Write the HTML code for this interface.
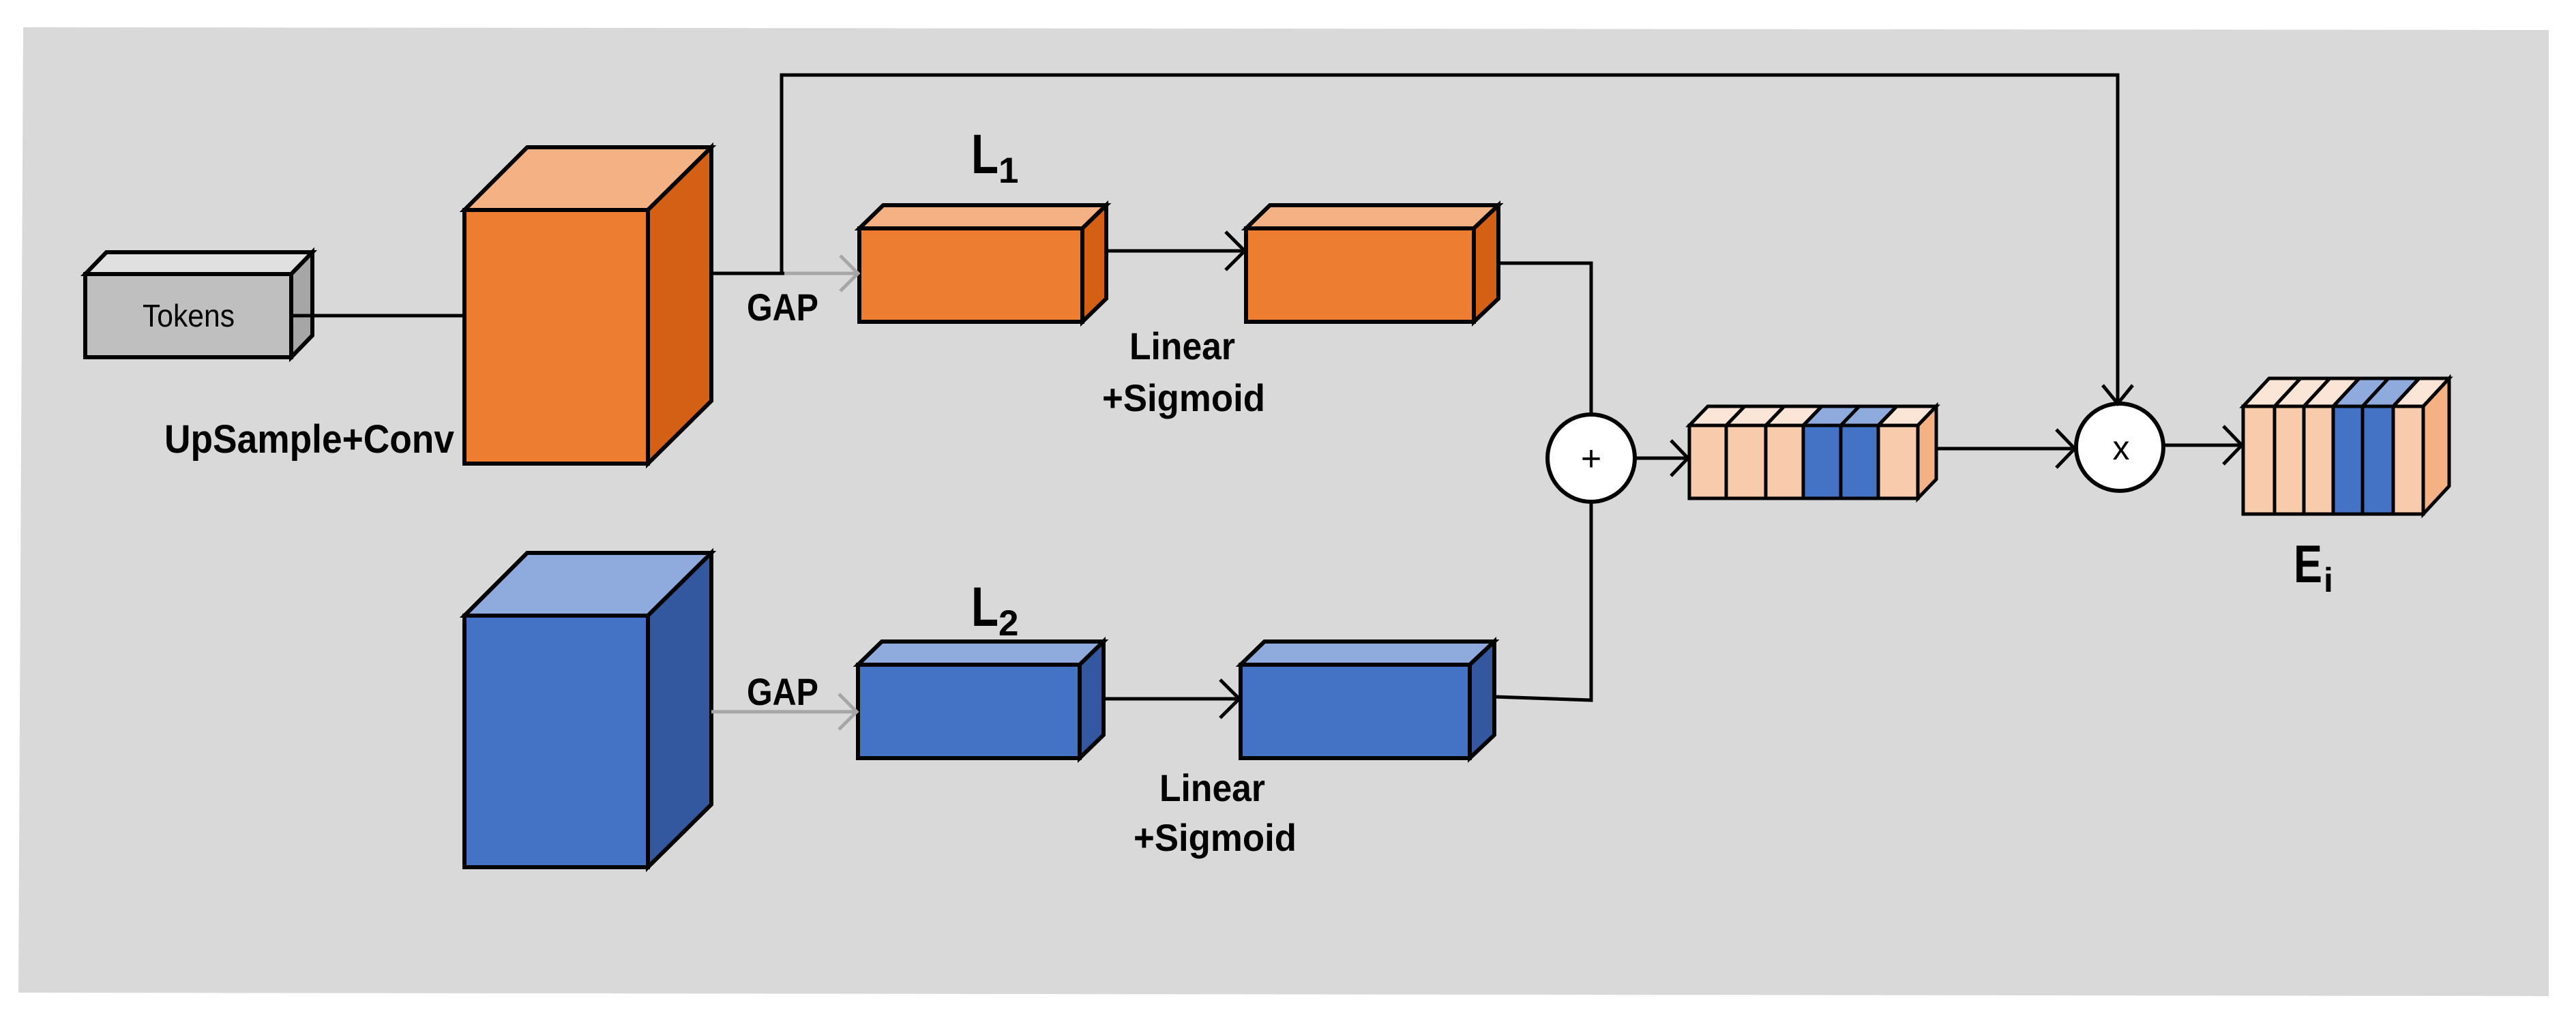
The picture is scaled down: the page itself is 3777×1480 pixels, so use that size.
<!DOCTYPE html>
<html><head><meta charset="utf-8"><style>
html,body{margin:0;padding:0;background:#fff;}
svg{display:block;}
text{font-family:"Liberation Sans",sans-serif;font-weight:bold;fill:#000;}
</style></head><body>
<svg width="3777" height="1480" viewBox="0 0 3777 1480" xmlns="http://www.w3.org/2000/svg">
<polygon points="34,40 3737,44 3737,1461 27,1456" fill="#d9d9d9"/>

<g stroke="#000" stroke-width="6" stroke-linejoin="miter">
<!-- Tokens -->
<polygon points="125,402 156,370 458,370 427,402" fill="#e0e0e0"/>
<polygon points="427,402 458,370 458,492 427,524" fill="#a6a6a6"/>
<rect x="125" y="402" width="302" height="122" fill="#bfbfbf"/>

<!-- Orange big cube -->
<polygon points="681,308 773,216 1043,216 950,308" fill="#f4b183"/>
<polygon points="950,308 1043,216 1043,588 950,680" fill="#d46016"/>
<rect x="681" y="308" width="269" height="372" fill="#ed7d31"/>

<!-- Blue big cube -->
<polygon points="681,903 773,811 1043,811 950,903" fill="#8faadc"/>
<polygon points="950,903 1043,811 1043,1180 950,1272" fill="#3358a0"/>
<rect x="681" y="903" width="269" height="369" fill="#4472c4"/>

<!-- L1 box -->
<polygon points="1260,335 1295,301 1622,301 1587,335" fill="#f4b183"/>
<polygon points="1587,335 1622,301 1622,438 1587,472" fill="#d46016"/>
<rect x="1260" y="335" width="327" height="137" fill="#ed7d31"/>
<!-- box2 orange -->
<polygon points="1827,335 1862,301 2197,301 2161,335" fill="#f4b183"/>
<polygon points="2161,335 2197,301 2197,438 2161,472" fill="#d46016"/>
<rect x="1827" y="335" width="334" height="137" fill="#ed7d31"/>

<!-- L2 box -->
<polygon points="1258,975 1293,941 1618,941 1583,975" fill="#8faadc"/>
<polygon points="1583,975 1618,941 1618,1078 1583,1112" fill="#3358a0"/>
<rect x="1258" y="975" width="325" height="137" fill="#4472c4"/>
<!-- box4 blue -->
<polygon points="1819,975 1854,941 2191,941 2155,975" fill="#8faadc"/>
<polygon points="2155,975 2191,941 2191,1078 2155,1112" fill="#3358a0"/>
<rect x="1819" y="975" width="336" height="137" fill="#4472c4"/>

<!-- striped box3 -->
<g stroke-width="5">
<polygon points="2477,624 2504,596 2839,596 2812,624" fill="#fbe5d6"/>
<polygon points="2644,624 2671,596 2781,596 2754,624" fill="#8faadc"/>
<polygon points="2812,624 2839,596 2839,703 2812,731" fill="#f4b183"/>
<rect x="2477" y="624" width="54" height="107" fill="#f8cbad"/>
<rect x="2531" y="624" width="58" height="107" fill="#f8cbad"/>
<rect x="2589" y="624" width="55" height="107" fill="#f8cbad"/>
<rect x="2644" y="624" width="55" height="107" fill="#4472c4"/>
<rect x="2699" y="624" width="55" height="107" fill="#4472c4"/>
<rect x="2754" y="624" width="58" height="107" fill="#f8cbad"/>
<line x1="2531" y1="624" x2="2558" y2="596"/>
<line x1="2589" y1="624" x2="2616" y2="596"/>
<line x1="2644" y1="624" x2="2671" y2="596"/>
<line x1="2699" y1="624" x2="2726" y2="596"/>
<line x1="2754" y1="624" x2="2781" y2="596"/>
</g>

<!-- Ei box -->
<g stroke-width="5">
<polygon points="3289,596 3327,555 3591,555 3553,596" fill="#fbe5d6"/>
<polygon points="3421,596 3459,555 3547,555 3509,596" fill="#8faadc"/>
<polygon points="3553,596 3591,555 3591,713 3553,754" fill="#f4b183"/>
<rect x="3289" y="596" width="46" height="158" fill="#f8cbad"/>
<rect x="3335" y="596" width="43" height="158" fill="#f8cbad"/>
<rect x="3378" y="596" width="43" height="158" fill="#f8cbad"/>
<rect x="3421" y="596" width="43" height="158" fill="#4472c4"/>
<rect x="3464" y="596" width="45" height="158" fill="#4472c4"/>
<rect x="3509" y="596" width="44" height="158" fill="#f8cbad"/>
<line x1="3335" y1="596" x2="3373" y2="555"/>
<line x1="3378" y1="596" x2="3416" y2="555"/>
<line x1="3421" y1="596" x2="3459" y2="555"/>
<line x1="3464" y1="596" x2="3502" y2="555"/>
<line x1="3509" y1="596" x2="3547" y2="555"/>
</g>

<!-- circles -->
<circle cx="2333" cy="672" r="64" fill="#fff"/>
<circle cx="3108" cy="656" r="64" fill="#fff"/>
</g>

<!-- connectors -->
<g fill="none" stroke="#000" stroke-width="5">
<line x1="427" y1="463" x2="681" y2="463"/>
<line x1="1043" y1="401" x2="1150" y2="401"/>
<polyline points="1146,401 1146,110 3105,110 3105,590"/>
<polyline points="3083,565 3105,592 3127,565"/>
<line x1="1622" y1="368" x2="1825" y2="368"/>
<polyline points="1797,340 1825,368 1797,396"/>
<line x1="1618" y1="1025" x2="1817" y2="1025"/>
<polyline points="1789,997 1817,1025 1789,1053"/>
<polyline points="2197,386 2333,386 2333,608"/>
<polyline points="2191,1022 2333,1027 2333,736"/>
<line x1="2397" y1="672" x2="2475" y2="672"/>
<polyline points="2450,646 2475,672 2450,698"/>
<line x1="2839" y1="658" x2="3042" y2="658"/>
<polyline points="3015,630 3042,658 3015,686"/>
<line x1="3172" y1="653" x2="3287" y2="653"/>
<polyline points="3260,625 3287,653 3260,681"/>
</g>
<g fill="none" stroke="#a6a6a6" stroke-width="5">
<line x1="1150" y1="401" x2="1258" y2="401"/>
<polyline points="1232,375 1258,401 1232,427"/>
<line x1="1043" y1="1044" x2="1256" y2="1044"/>
<polyline points="1230,1018 1256,1044 1230,1070"/>
</g>

<!-- text -->
<text x="209" y="479" font-size="46" style="font-weight:normal" textLength="135" lengthAdjust="spacingAndGlyphs">Tokens</text>
<text x="241" y="664" font-size="58" textLength="425" lengthAdjust="spacingAndGlyphs">UpSample+Conv</text>
<text x="1095" y="470" font-size="56" textLength="105" lengthAdjust="spacingAndGlyphs">GAP</text>
<text x="1095" y="1034" font-size="56" textLength="105" lengthAdjust="spacingAndGlyphs">GAP</text>
<text x="1424" y="254" font-size="82" textLength="40" lengthAdjust="spacingAndGlyphs">L</text>
<text x="1464" y="268" font-size="53">1</text>
<text x="1424" y="918" font-size="82" textLength="40" lengthAdjust="spacingAndGlyphs">L</text>
<text x="1464" y="932" font-size="53">2</text>
<text x="1656" y="527" font-size="56" textLength="155" lengthAdjust="spacingAndGlyphs">Linear</text>
<text x="1616" y="603" font-size="56" textLength="239" lengthAdjust="spacingAndGlyphs">+Sigmoid</text>
<text x="1700" y="1175" font-size="56" textLength="155" lengthAdjust="spacingAndGlyphs">Linear</text>
<text x="1662" y="1248" font-size="56" textLength="239" lengthAdjust="spacingAndGlyphs">+Sigmoid</text>
<text x="3363" y="854" font-size="78" textLength="42" lengthAdjust="spacingAndGlyphs">E</text>
<text x="3407" y="868" font-size="50">i</text>
<text x="2333" y="690" font-size="52" text-anchor="middle" style="font-weight:normal">+</text>
<text x="3110" y="674" font-size="50" text-anchor="middle" style="font-weight:normal">x</text>
</svg>
</body></html>
